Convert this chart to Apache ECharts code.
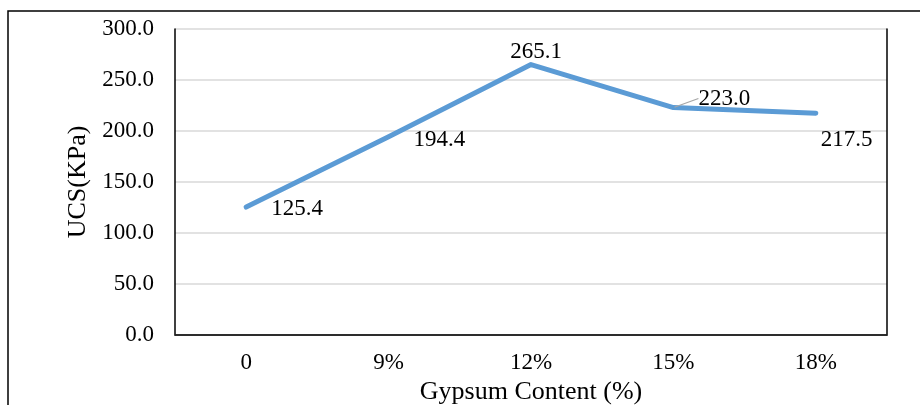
<!DOCTYPE html>
<html>
<head>
<meta charset="utf-8">
<script src="https://cdn.jsdelivr.net/npm/echarts@6/dist/echarts.min.js"></script>
<style>
  html, body { margin: 0; padding: 0; background: #fff; }
  #chart { width: 920px; height: 405px; }
</style>
</head>
<body>
<div id="chart"></div>
<script>
// Unconfined compressive strength vs gypsum content
const categories = ['0', '9%', '12%', '15%', '18%'];
const ucsValues = [125.4, 194.4, 265.1, 223.0, 217.5];
const yTicks = { min: 0, max: 300, interval: 50 };

const FONT = '"Liberation Serif", "Times New Roman", serif';
const TICK_TXT = { fontFamily: FONT, fontSize: 23, color: '#000' };
const NAME_TXT = { fontFamily: FONT, fontSize: 26, color: '#000' };

// label anchor per point, then a small pixel nudge applied in labelLayout
const labelPos = ['right', 'right', 'top', 'right', 'right'];
const labelDist = [24, 24, 0, 24, 24];
const labelNudge = [[0, 2], [0, 3], [5, 0], [0, -9], [-20, 27]];

const chart = echarts.init(document.getElementById('chart'), null, { renderer: 'canvas' });

const frameAxisLine = { show: true, lineStyle: { color: '#000', width: 1.5 } };
const hidden = { show: false };

chart.setOption({
  animation: false,
  backgroundColor: '#fff',
  graphic: [{
    type: 'rect',
    shape: { x: 8, y: 11, width: 1000, height: 600 },
    style: { fill: 'none', stroke: '#000', lineWidth: 1.5 },
    silent: true,
    z: -10
  }],
  grid: {
    left: 175, right: 33, top: 29, bottom: 70,
    outerBoundsMode: 'none',
    containLabel: false,
    show: false
  },
  xAxis: [{
    type: 'category',
    data: categories,
    boundaryGap: true,
    name: 'Gypsum Content (%)',
    nameLocation: 'middle',
    nameGap: 44,
    nameTextStyle: NAME_TXT,
    axisLine: { show: true, lineStyle: { color: '#a6a6a6', width: 1.5 } },
    axisTick: hidden,
    axisLabel: Object.assign({ margin: 16 }, TICK_TXT),
    splitLine: hidden
  }, {
    // top edge of the plot frame
    type: 'category',
    data: categories,
    position: 'top',
    axisLine: frameAxisLine,
    axisTick: hidden, axisLabel: hidden, splitLine: hidden
  }],
  yAxis: [{
    type: 'value',
    min: yTicks.min, max: yTicks.max, interval: yTicks.interval,
    name: 'UCS(KPa)',
    nameLocation: 'middle',
    nameGap: 74,
    nameTextStyle: NAME_TXT,
    axisLine: frameAxisLine,
    axisTick: hidden,
    axisLabel: Object.assign({ margin: 21, formatter: v => v.toFixed(1) }, TICK_TXT),
    splitLine: { show: true, lineStyle: { color: '#d9d9d9', width: 1.5 } }
  }, {
    // right edge of the plot frame
    type: 'value',
    min: yTicks.min, max: yTicks.max, interval: yTicks.interval,
    position: 'right',
    axisLine: frameAxisLine,
    axisTick: hidden, axisLabel: hidden, splitLine: hidden
  }],
  series: [{
    type: 'line',
    xAxisIndex: 0,
    yAxisIndex: 0,
    data: ucsValues.map((v, i) => ({
      value: v,
      label: { position: labelPos[i], distance: labelDist[i] },
      labelLine: { show: i === 3 }
    })),
    symbol: 'circle',
    symbolSize: 2,
    itemStyle: { color: '#5b9bd5' },
    lineStyle: { color: '#5b9bd5', width: 5, cap: 'round', join: 'round' },
    label: {
      show: true,
      formatter: p => p.value.toFixed(1),
      fontFamily: FONT, fontSize: 23, color: '#000'
    },
    labelLayout: p => ({ dx: labelNudge[p.dataIndex][0], dy: labelNudge[p.dataIndex][1] }),
    labelLine: { show: false, lineStyle: { color: '#a6a6a6', width: 1.2 } }
  }]
});
</script>
</body>
</html>
